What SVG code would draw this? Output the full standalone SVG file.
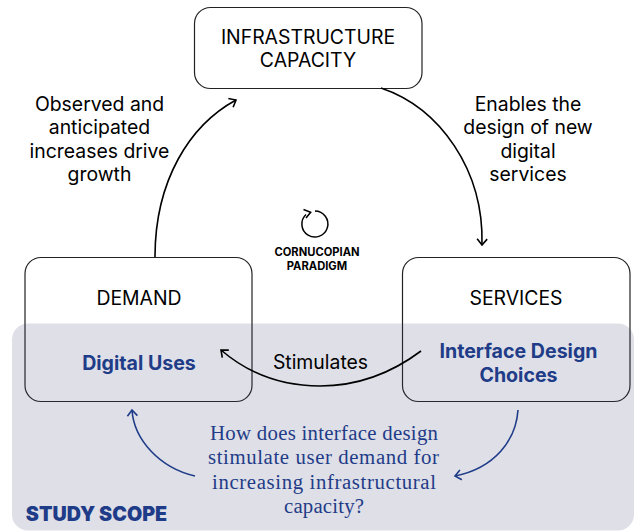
<svg xmlns="http://www.w3.org/2000/svg" width="634" height="531" viewBox="0 0 634 531">
<style>
text{font-family:Inter,"Liberation Sans",sans-serif;text-anchor:middle;fill:#000}
.n{font-size:19.4px}
.l{font-size:19.4px}
.b{font-size:19.6px;font-weight:700;fill:#1f3c88}
.s{font-size:11.2px;font-weight:700}
.q{font-family:"Liberation Serif",serif;font-size:20.8px;fill:#1f3c88}
.box{fill:#fff;stroke:#222;stroke-width:1.2}
.k{fill:none;stroke:#000;stroke-width:1.6}
.u{fill:none;stroke:#1f3c88;stroke-width:1.6}
</style>
<defs>
<marker id="ak" markerWidth="14" markerHeight="14" refX="10" refY="6" orient="auto" markerUnits="userSpaceOnUse"><path d="M4 1L10 6L4 11" fill="none" stroke="#000" stroke-width="1.6"/></marker>
<marker id="au" markerWidth="14" markerHeight="14" refX="10" refY="6" orient="auto" markerUnits="userSpaceOnUse"><path d="M4 1L10 6L4 11" fill="none" stroke="#1f3c88" stroke-width="1.6"/></marker>
</defs>
<g id="infrastructure"><rect class="box" x="194.5" y="7.5" width="227.5" height="81" rx="16"/>
<text class="n" x="308" y="43.500">INFRASTRUCTURE</text><text class="n" x="308" y="67">CAPACITY</text></g>
<g id="demand"><rect class="box" x="25" y="257.500" width="227" height="144" rx="16"/><text class="n" x="139" y="305">DEMAND</text></g>
<g id="services"><rect class="box" x="402.500" y="257.500" width="227.500" height="144" rx="16"/><text class="n" x="516" y="305">SERVICES</text></g>
<g id="study-scope"><rect x="12" y="323.500" width="622" height="207" rx="16" fill="#3c4272" fill-opacity=".17"/>
<text x="96.500" y="520.500" style="font-size:19.7px;font-weight:900;fill:#1f3c88">STUDY SCOPE</text></g>
<g id="connectors">
<path class="k" marker-end="url(#ak)" d="M155 257C155 180 190 125 236 100"/>
<path class="k" marker-end="url(#ak)" d="M381 88C440 108 484 170 482 245"/>
<path class="k" marker-end="url(#ak)" d="M421 351C385 378 350 386 320 386C285 386 250 375 221 350"/>
<path class="u" marker-end="url(#au)" d="M518 410C516 440 495 468 455 476"/>
<path class="u" marker-end="url(#au)" d="M195 476C160 468 134 440 132 410"/>
</g>
<g id="cycle-icon"><path d="M306 214.500A13 13 0 1 0 315 211" fill="none" stroke="#000" stroke-width="1.500"/><path d="M303.500 209.500L310.700 212.300L306 218" fill="none" stroke="#000" stroke-width="1.500"/></g>
<g id="labels">
<text class="l" x="99.500" y="110.500">Observed and</text><text class="l" x="99.500" y="134">anticipated</text><text class="l" x="99.500" y="157.500">increases drive</text><text class="l" x="99.500" y="181">growth</text>
<text class="l" x="528" y="110.500">Enables the</text><text class="l" x="528" y="134">design of new</text><text class="l" x="528" y="157.500">digital</text><text class="l" x="528" y="181">services</text>
<text class="s" x="317" y="256">CORNUCOPIAN</text><text class="s" x="317" y="270">PARADIGM</text>
<text class="l" x="320.500" y="369">Stimulates</text>
<text class="b" x="139" y="369.500">Digital Uses</text>
<text class="b" x="518.500" y="358">Interface Design</text><text class="b" x="518.500" y="381.500">Choices</text>
<text class="q" x="324" y="440" textLength="228">How does interface design</text><text class="q" x="323.500" y="464" textLength="231">stimulate user demand for</text><text class="q" x="324" y="489" textLength="224">increasing infrastructural</text><text class="q" x="324" y="513" textLength="80">capacity?</text>
</g>
</svg>
